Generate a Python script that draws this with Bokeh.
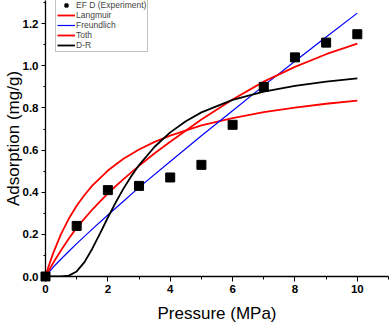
from bokeh.plotting import figure
from bokeh.models import Range1d, SingleIntervalTicker, Legend, LegendItem, NumeralTickFormatter
from bokeh.embed import file_html
from bokeh.resources import INLINE

# Experimental data
exp_p = [0, 1, 2, 3, 4, 5, 6, 7, 8, 9, 10]
exp_q = [0.0, 0.24, 0.41, 0.43, 0.47, 0.53, 0.72, 0.90, 1.04, 1.11, 1.15]

# Model curves
lang_p = [0, 0.1, 0.25, 0.5, 0.75, 1, 1.25, 1.5, 2, 2.5, 3, 3.5, 4, 5, 6, 7, 8, 9, 10]
lang_q = [0, 0.048, 0.112, 0.202, 0.275, 0.336, 0.387, 0.431, 0.503, 0.559, 0.603,
          0.639, 0.669, 0.717, 0.752, 0.780, 0.802, 0.820, 0.835]

freu_p = [0, 0.25, 0.5, 0.75, 1, 1.5, 2, 2.5, 3, 4, 5, 6, 7, 8, 9, 10]
freu_q = [0, 0.045, 0.083, 0.12, 0.156, 0.225, 0.292, 0.357, 0.423, 0.546, 0.668,
          0.787, 0.906, 1.022, 1.137, 1.25]

toth_p = [0, 0.25, 0.5, 0.75, 1, 1.5, 2, 2.5, 3, 3.5, 4, 5, 6, 7, 8, 9, 10]
toth_q = [0, 0.065, 0.125, 0.18, 0.232, 0.318, 0.395, 0.462, 0.525, 0.585, 0.64,
          0.745, 0.84, 0.925, 0.995, 1.055, 1.105]

dr_p = [0, 0.5, 0.75, 1, 1.25, 1.5, 1.75, 2, 2.25, 2.5, 2.75, 3, 3.5, 4, 4.5, 5,
        6, 7, 8, 9, 10]
dr_q = [0, 0.0, 0.004, 0.024, 0.068, 0.132, 0.205, 0.28, 0.351, 0.417, 0.476, 0.529,
        0.616, 0.684, 0.737, 0.779, 0.838, 0.878, 0.905, 0.925, 0.94]

FONT = "Liberation Sans"

p = figure(width=390, height=325, output_backend="svg", toolbar_location=None,
           x_range=Range1d(0, 11), y_range=Range1d(0, 1.31),
           min_border_left=0, min_border_bottom=0, min_border_top=0,
           min_border_right=2)
p.outline_line_color = None
p.grid.visible = False
p.background_fill_color = "white"
p.border_fill_color = "white"

p.xaxis.ticker = SingleIntervalTicker(interval=2, num_minor_ticks=2)
p.yaxis.ticker = SingleIntervalTicker(interval=0.2, num_minor_ticks=2)
for ax in (p.xaxis, p.yaxis):
    ax.axis_line_width = 1.3
    ax.axis_line_color = "black"
    ax.major_tick_line_color = "black"
    ax.minor_tick_line_color = "black"
    ax.major_tick_in = 0
    ax.minor_tick_in = 0
    ax.major_label_text_font = FONT
    ax.major_label_text_font_style = "bold"
    ax.major_label_text_font_size = "11.5px"
    ax.major_label_text_color = "black"
    ax.axis_label_text_font = FONT
    ax.axis_label_text_font_style = "normal"
    ax.axis_label_text_font_size = "17px"
    ax.axis_label_text_color = "black"

p.xaxis.major_tick_out = 5
p.xaxis.minor_tick_out = 3
p.yaxis.major_tick_out = 4
p.yaxis.minor_tick_out = 2
p.yaxis.major_label_standoff = 3
p.yaxis.axis_label_standoff = -3
p.xaxis.major_label_standoff = 3
p.xaxis.axis_label_standoff = 8

p.xaxis.axis_label = "Pressure (MPa)"
p.yaxis.axis_label = "Adsorption (mg/g)"
p.yaxis.formatter = NumeralTickFormatter(format="0.0")

r_lang = p.line(lang_p, lang_q, line_color="#ff0000", line_width=1.8)
r_freu = p.line(freu_p, freu_q, line_color="#0000ff", line_width=1.2)
r_toth = p.line(toth_p, toth_q, line_color="#ff0000", line_width=1.8)
r_dr = p.line(dr_p, dr_q, line_color="black", line_width=1.8)
r_exp = p.scatter(exp_p, exp_q, marker="square", size=9, fill_color="black",
                  line_color="black", level="overlay")

legend = Legend(items=[
    LegendItem(label="EF D (Experiment)", renderers=[r_exp]),
    LegendItem(label="Langmuir", renderers=[r_lang]),
    LegendItem(label="Freundlich", renderers=[r_freu]),
    LegendItem(label="Toth", renderers=[r_toth]),
    LegendItem(label="D-R", renderers=[r_dr]),
], location=(10, 224))
legend.label_text_font = FONT
legend.label_text_font_size = "8.5px"
legend.label_height = 8
legend.glyph_height = 8
legend.glyph_width = 18
legend.spacing = -2
legend.padding = 1
legend.margin = 0
legend.label_standoff = 1
legend.border_line_color = "#888888"
legend.border_line_width = 1
legend.background_fill_alpha = 1
p.add_layout(legend)

open("out.html", "w").write(file_html(p, INLINE))
